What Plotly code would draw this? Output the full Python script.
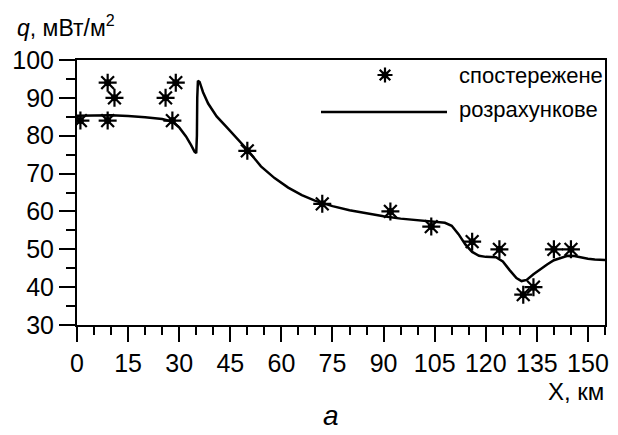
import plotly.graph_objects as go
import math

# Observed heat flow (stars)
obs_x = [1, 9, 9, 11, 26, 28, 29, 50, 72, 92, 104, 116, 124, 131, 134, 140, 145]
obs_q = [84, 94, 84, 90, 90, 84, 94, 76, 62, 60, 56, 52, 50, 38, 40, 50, 50]

# Calculated heat flow (line)
calc_x = [0, 5, 10, 15, 20, 25, 28, 30, 32, 33.5, 34.5, 35.0, 35.2, 35.3, 35.5, 36, 37, 38.5,
          41, 44, 46, 50, 54, 58, 62, 66, 70, 75, 80, 85, 90, 95, 100, 105, 108, 110, 112,
          114, 116, 118, 120, 123, 125, 127, 129, 130.5, 132, 134, 136, 138, 140, 142, 144,
          146, 148, 150, 152, 155]
calc_q = [85.3, 85.4, 85.4, 85.2, 84.9, 84.4, 83.7, 82.2, 79.8, 77.5, 75.8, 75.4, 80, 90, 94.5,
          94.2, 91.5, 88.5, 85.1, 82.2, 80.2, 76.3, 71.9, 68.8, 66.3, 64.3, 62.8, 61.4, 60.3,
          59.4, 58.7, 58.1, 57.6, 57.2, 57.0, 56.2, 54.0, 51.3, 49.3, 48.3, 48.0, 47.9, 46.8,
          44.5, 42.4, 41.6, 41.9, 43.4, 44.8, 46.0, 47.1, 47.8, 48.3, 48.2, 47.8, 47.5, 47.3,
          47.2]

x_ticks = [0, 15, 30, 45, 60, 75, 90, 105, 120, 135, 150]
y_ticks = [30, 40, 50, 60, 70, 80, 90, 100]

legend_labels = ["спостережене", "розрахункове"]

FONT = "Liberation Sans"

fig = go.Figure()
fig.add_trace(go.Scatter(x=calc_x, y=calc_q, mode="lines",
                         line=dict(color="black", width=2.5), showlegend=False))
fig.add_trace(go.Scatter(x=obs_x, y=obs_q, mode="markers",
                         marker=dict(symbol="asterisk-open", size=15, color="black",
                                     line=dict(color="black", width=2.2)),
                         showlegend=False))
fig.add_trace(go.Scatter(x=obs_x, y=obs_q, mode="markers",
                         marker=dict(symbol="circle", size=7, color="black"),
                         showlegend=False))

axis_common = dict(showline=True, linecolor="black", linewidth=2, mirror=True,
                   ticks="outside", tickcolor="black", tickwidth=2,
                   showgrid=False, zeroline=False, tickangle=0, automargin=False,
                   tickfont=dict(family=FONT, size=25, color="black"))

fig.update_xaxes(range=[0, 155], tickvals=x_ticks, ticklen=15,
                 minor=dict(dtick=5, ticklen=8, tickwidth=2, tickcolor="black", ticks="outside"),
                 **axis_common)
fig.update_yaxes(range=[30, 100], tickvals=y_ticks, ticklen=16,
                 minor=dict(dtick=5, ticklen=9, tickwidth=2, tickcolor="black", ticks="outside"),
                 **axis_common)

# page body has an 8px margin; figure is sized so the plot lands where the reference has it
OFF = 8
L, R, T, B = 77 - OFF, 13, 60 - OFF, 110
W, H = 618 - OFF, 435 - OFF
pw, ph = W - L - R, H - T - B

def px(xp):
    return (xp - OFF - L) / pw

def py(yp):
    return (H - B - (yp - OFF)) / ph

annotations = [
    dict(text="<i>q</i>, мВт/м<sup>2</sup>", xref="paper", yref="paper",
         x=px(15), y=py(26), xanchor="left", yanchor="middle", showarrow=False,
         font=dict(family=FONT, size=23, color="black")),
    dict(text="X, км", xref="paper", yref="paper", x=px(606), y=py(391),
         xanchor="right", yanchor="middle", showarrow=False,
         font=dict(family=FONT, size=24, color="black")),
    dict(text="<i>a</i>", xref="paper", yref="paper", x=px(331), y=py(415),
         xanchor="center", yanchor="middle", showarrow=False,
         font=dict(family=FONT, size=28, color="black")),
    dict(text=legend_labels[0], xref="paper", yref="paper", x=px(457), y=py(75),
         xanchor="left", yanchor="middle", showarrow=False,
         font=dict(family=FONT, size=22, color="black")),
    dict(text=legend_labels[1], xref="paper", yref="paper", x=px(457), y=py(110),
         xanchor="left", yanchor="middle", showarrow=False,
         font=dict(family=FONT, size=22, color="black")),
]

# legend samples (decoration in paper coordinates)
cx, cy = 385, 75
r = 7.5
d = r * math.sqrt(0.5)
segs = [(-r, 0, r, 0), (0, -r, 0, r), (-d, -d, d, d), (-d, d, d, -d)]
path = " ".join(f"M{px(cx+a):.5f},{py(cy+b):.5f} L{px(cx+c):.5f},{py(cy+e):.5f}" for a, b, c, e in segs)
shapes = [
    dict(type="path", xref="paper", yref="paper", path=path,
         line=dict(color="black", width=2.2)),
    dict(type="circle", xref="paper", yref="paper",
         x0=px(cx - 3.5), x1=px(cx + 3.5), y0=py(cy + 3.5), y1=py(cy - 3.5),
         fillcolor="black", line=dict(color="black", width=0)),
    dict(type="line", xref="paper", yref="paper", x0=px(321), x1=px(447),
         y0=py(112), y1=py(112), line=dict(color="black", width=2.5)),
]

fig.update_layout(width=W, height=H, margin=dict(l=L, r=R, t=T, b=B),
                  plot_bgcolor="white", paper_bgcolor="white",
                  annotations=annotations, shapes=shapes, showlegend=False)

fig.write_html("out.html")
